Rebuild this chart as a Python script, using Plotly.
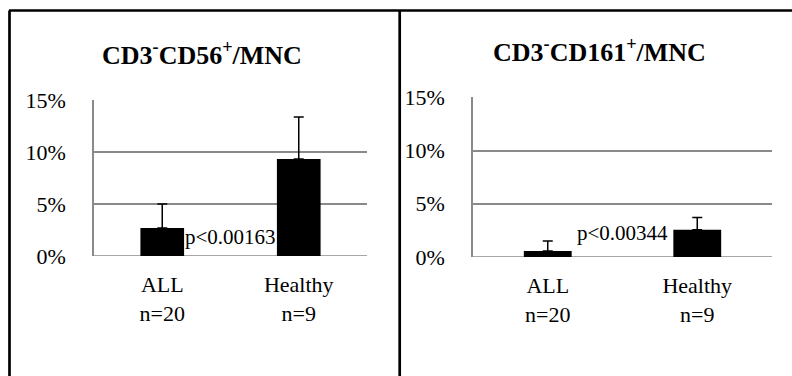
import plotly.graph_objects as go

categories = ["ALL<br>n=20", "Healthy<br>n=9"]
cd56_values = [2.7, 9.35]
cd56_errors = [2.3, 4.05]
cd161_values = [0.57, 2.55]
cd161_errors = [0.93, 1.15]
y_ticks = [0, 5, 10, 15]
y_tick_labels = ["0%", "5%", "10%", "15%"]
titles = ["<b>CD3<sup>-</sup>CD56<sup>+</sup>/MNC</b>", "<b>CD3<sup>-</sup>CD161<sup>+</sup>/MNC</b>"]
p_values = ["p<0.00163", "p<0.00344"]

FONT = "Times New Roman, Liberation Serif, DejaVu Serif, serif"
GRID = "#8a8a8a"

fig = go.Figure()
fig.add_trace(go.Bar(
    x=categories, y=cd56_values, xaxis="x", yaxis="y",
    marker=dict(color="black", line=dict(width=0)),
    error_y=dict(type="data", array=cd56_errors, arrayminus=[0, 0], symmetric=False,
                 color="black", thickness=1.5, width=5),
    showlegend=False,
))
fig.add_trace(go.Bar(
    x=categories, y=cd161_values, xaxis="x2", yaxis="y2",
    marker=dict(color="black", line=dict(width=0)),
    error_y=dict(type="data", array=cd161_errors, arrayminus=[0, 0], symmetric=False,
                 color="black", thickness=1.5, width=5),
    showlegend=False,
))

W, H = 792, 376

def xd(a, b):
    return [a / W, b / W]

def yd(top, bottom):
    return [1 - bottom / H, 1 - top / H]

common_x = dict(
    showgrid=False, zeroline=False, showline=False, ticks="",
    tickfont=dict(family=FONT, size=22, color="black"),
    ticklabelstandoff=13, automargin=False,
)
common_y = dict(
    range=[0, 15.03], tickvals=y_ticks, ticktext=y_tick_labels,
    showgrid=True, gridcolor=GRID, gridwidth=1.5,
    zeroline=False, showline=True, linecolor=GRID, linewidth=1.5,
    ticks="", tickfont=dict(family=FONT, size=22, color="black"),
    ticklabelstandoff=22, automargin=False,
)

fig.update_layout(
    width=W, height=H, autosize=False,
    margin=dict(l=0, r=0, t=0, b=0, pad=0),
    paper_bgcolor="white", plot_bgcolor="white",
    bargap=0.68,
    font=dict(family=FONT, color="black"),
    xaxis=dict(domain=xd(94, 367), anchor="y", **common_x),
    yaxis=dict(domain=yd(100, 256), anchor="x", **common_y),
    xaxis2=dict(domain=xd(473, 772), anchor="y2", **common_x),
    yaxis2=dict(domain=yd(97, 257), anchor="x2", **common_y),
)

# bottom axis lines (0% gridline)
for xr, yr in (("x", "y"), ("x2", "y2")):
    fig.add_shape(type="line", xref=f"{xr} domain", yref=yr, x0=0, x1=1, y0=0, y1=0,
                  line=dict(color=GRID, width=1.5), layer="below")

# titles
fig.add_annotation(text=titles[0], x=202 / W, y=1 - 53 / H, xref="paper", yref="paper",
                   xanchor="center", yanchor="middle",
                   showarrow=False, font=dict(family=FONT, size=26, color="black"))
fig.add_annotation(text=titles[1], x=599 / W, y=1 - 51 / H, xref="paper", yref="paper",
                   xanchor="center", yanchor="middle",
                   showarrow=False, font=dict(family=FONT, size=26, color="black"))

# p-values
fig.add_annotation(text=p_values[0], x=0.5, y=1.85, xref="x", yref="y", showarrow=False,
                   xanchor="center", font=dict(family=FONT, size=21, color="black"))
fig.add_annotation(text=p_values[1], x=0.5, y=2.3, xref="x2", yref="y2", showarrow=False,
                   xanchor="center", font=dict(family=FONT, size=21, color="black"))

# frame lines
fig.add_shape(type="line", xref="paper", yref="paper", x0=9 / W, x1=1, y0=1 - 10.5 / H, y1=1 - 10.5 / H,
              line=dict(color="black", width=2.7))
fig.add_shape(type="line", xref="paper", yref="paper", x0=9.5 / W, x1=9.5 / W, y0=0, y1=1 - 10.5 / H,
              line=dict(color="black", width=2.7))
fig.add_shape(type="line", xref="paper", yref="paper", x0=399.7 / W, x1=399.7 / W, y0=0, y1=1 - 10.5 / H,
              line=dict(color="black", width=2.7))

fig.write_html("out.html", config={"displayModeBar": False},
               post_script="document.body.style.margin='0';")
